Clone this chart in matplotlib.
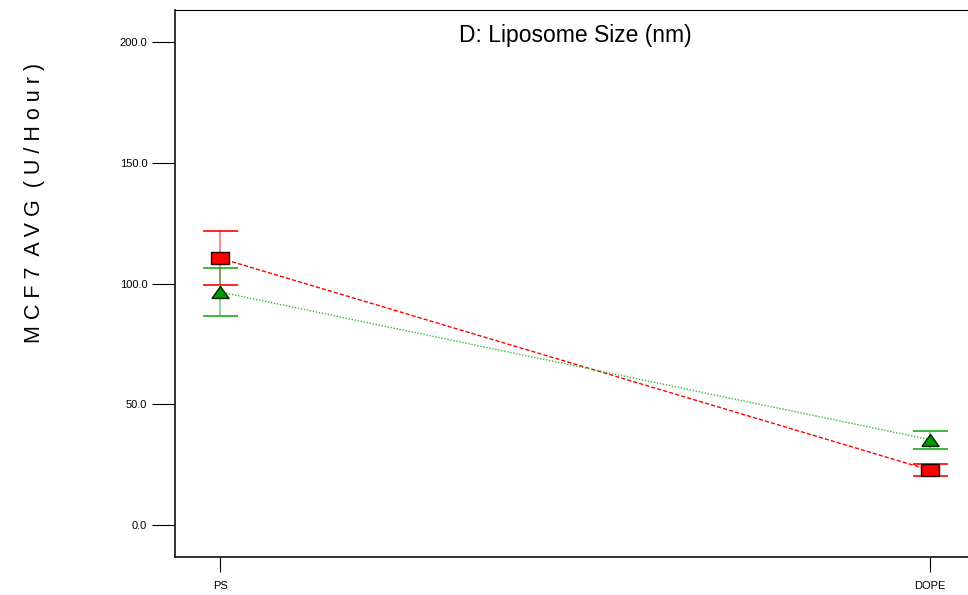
import numpy as np
import matplotlib
matplotlib.use('Agg')
import matplotlib.pyplot as plt

plt.rcParams['font.family'] = ['Liberation Sans', 'DejaVu Sans']

# data
levels = ['PS', 'DOPE']
red_mean = [110.5, 22.7]
red_err = [11.3, 2.4]
green_mean = [96.5, 35.3]
green_err = [9.8, 3.7]
yticks = [0, 50, 100, 150, 200]

W, H = 968, 595
fig = plt.figure(figsize=(W / 100, H / 100), dpi=100)
# right edge of the frame falls just outside the picture
ax = fig.add_axes([175 / W, (H - 557) / H, 800 / W, 547 / H])

x = np.arange(len(levels))
rect = [(-1, -0.65), (1, -0.65), (1, 0.65), (-1, 0.65), (-1, -0.65)]
tri = [(-1, -0.7), (1, -0.7), (0, 0.7), (-1, -0.7)]

red = '#ff0000'
green = '#1faa1f'

# error bars: faint stems, solid caps
for mean, err, col in [(red_mean, red_err, red), (green_mean, green_err, green)]:
    eb = ax.errorbar(x, mean, yerr=err, fmt='none', ecolor=col, elinewidth=1.2,
                     capsize=12.6, capthick=1.2, zorder=2)
    eb[2][0].set_alpha(0.55)

ax.plot(x, red_mean, color=red, lw=1, ls=(0, (3, 1.5)), zorder=3)
ax.plot(x, green_mean, color='#33bb33', lw=1, ls=(0, (1, 1.2)), zorder=3)
ax.plot(x, red_mean, ls='none', marker=rect, ms=12.3, mfc=red, mec='#200000', mew=1, zorder=4)
ax.plot(x, green_mean, ls='none', marker=tri, ms=12.3, mfc='#009900', mec='#002000', mew=1, zorder=4)

ax.set_xlim(-0.0634, 1.0634)
ax.set_ylim(-13.25, 213.25)
ax.set_xticks(x)
ax.set_xticklabels(levels)
ax.set_yticks(yticks)
ax.set_yticklabels(['%.1f' % v for v in yticks])
ax.tick_params(axis='y', length=16.5, width=0.8, pad=3.5, labelsize=8)
ax.tick_params(axis='x', length=11, width=0.8, pad=6, labelsize=8)
for s in ['left', 'bottom']:
    ax.spines[s].set_linewidth(1.3)
    ax.spines[s].set_color('#222222')
ax.spines['top'].set_linewidth(0.8)

ax.text(0.5, 0.975, 'D: Liposome Size (nm)', transform=ax.transAxes,
        ha='center', va='top', fontsize=16.5)
fig.text(35 / W, 1 - 203 / H, 'M C F 7  A V G  ( U / H o u r )', rotation=90,
         ha='center', va='center', fontsize=15.5)

fig.savefig('out.png', dpi=100)
